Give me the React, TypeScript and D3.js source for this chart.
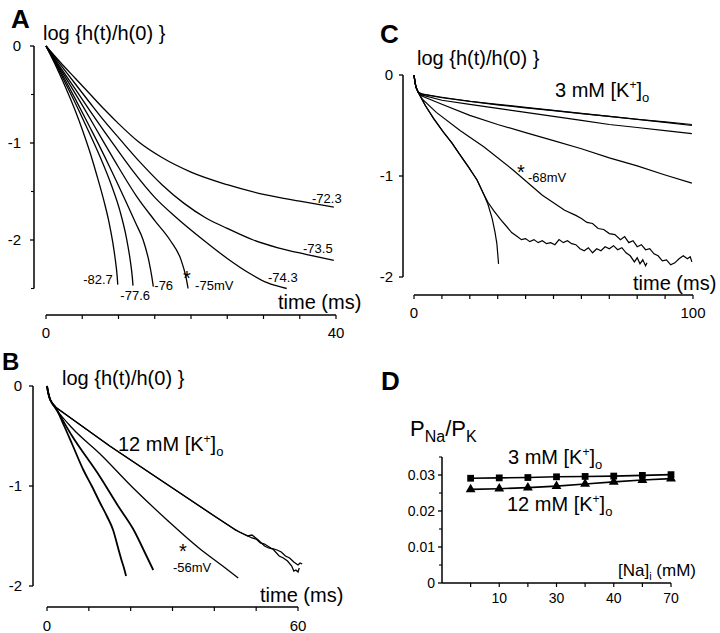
import React from "react";
import * as d3 from "d3";

const FONT = "'Liberation Sans', Arial, Helvetica, sans-serif";

type P = [number, number];

// ---------- Panel A (time ms, log h) ----------
const aVoltLabels = ["-82.7", "-77.6", "-76", "-75mV", "-74.3", "-73.5", "-72.3"];
const a827: P[] = [[0,0],[1,-0.15],[2,-0.31],[3,-0.48],[4,-0.66],[5,-0.86],[6,-1.08],[7,-1.33],[8,-1.6],[8.7,-1.82],[9.2,-2.02],[9.5,-2.17],[9.8,-2.36],[9.9,-2.46]];
const a776: P[] = [[0,0],[1.5,-0.21],[3,-0.43],[4.5,-0.66],[6,-0.9],[7.5,-1.15],[9,-1.43],[10.2,-1.7],[11.1,-1.98],[11.6,-2.2],[11.9,-2.38],[12,-2.47]];
const a76: P[] = [[0,0],[2,-0.26],[4,-0.54],[6,-0.83],[7.5,-1.05],[9,-1.28],[11,-1.6],[12.4,-1.83],[13.4,-2.0],[14.2,-2.22],[14.6,-2.38],[14.8,-2.48]];
const a75: P[] = [[0,0],[2.5,-0.3],[5,-0.61],[7.8,-0.97],[10,-1.25],[12.5,-1.55],[15,-1.8],[17.1,-2.0],[18.6,-2.2],[19.3,-2.38],[19.6,-2.5]];
const a743: P[] = [[0,0],[3,-0.33],[6,-0.66],[8.8,-0.96],[12,-1.29],[15,-1.56],[18,-1.77],[21.7,-2.0],[25,-2.19],[28,-2.34],[30.5,-2.44],[33.2,-2.5]];
const a735: P[] = [[0,0],[3,-0.29],[6,-0.58],[8,-0.77],[10.3,-0.97],[13,-1.2],[16,-1.43],[19,-1.62],[22,-1.77],[25,-1.88],[28.6,-2.0],[32,-2.08],[36,-2.15],[39.7,-2.21]];
const a723: P[] = [[0,0],[2,-0.17],[4,-0.33],[6,-0.49],[8,-0.65],[10,-0.8],[12.8,-0.99],[16,-1.15],[20,-1.3],[25,-1.43],[30,-1.53],[35,-1.6],[39.7,-1.66]];
const aCurves = [a827, a776, a76, a75, a743, a735, a723];
const aYTicks = [0, -1, -2];
const aYMinor = [-0.5, -1.5, -2.5];
const aXTicks = [0, 5, 10, 15, 20, 25, 30, 35, 40];

// ---------- Panel B ----------
const b1: P[] = [[0,0],[0.3,-0.07],[0.7,-0.13],[1.2,-0.17],[2,-0.21],[4,-0.39],[6,-0.58],[8.7,-0.84],[10.7,-1.0],[12.7,-1.17],[14.3,-1.3],[15.8,-1.44],[17,-1.62],[17.8,-1.74],[18.4,-1.82],[18.9,-1.9]];
const b2: P[] = [[0,0],[0.3,-0.07],[0.7,-0.13],[1.2,-0.17],[2,-0.22],[6,-0.5],[12.7,-0.91],[17,-1.2],[20.6,-1.43],[23.9,-1.71],[25.4,-1.84]];
const b56: P[] = [[0,0],[0.3,-0.07],[0.7,-0.13],[1.2,-0.17],[2,-0.22],[6,-0.42],[12.7,-0.68],[20.6,-1.02],[28.7,-1.34],[36.6,-1.63],[42,-1.8],[45.7,-1.92]];
const b4: P[] = [[0,0],[0.3,-0.07],[0.7,-0.13],[1.2,-0.17],[2,-0.21],[6,-0.33],[10,-0.45],[15,-0.6],[20,-0.74],[25,-0.88],[30,-1.02],[35,-1.16],[40,-1.3],[44,-1.41],[46,-1.46],[47.5,-1.49],[49,-1.52],[50,-1.53],[51,-1.57],[52,-1.58],[53.5,-1.62],[55,-1.64],[56,-1.66],[57,-1.7],[58,-1.72],[59,-1.76],[60,-1.79],[60.5,-1.77],[61,-1.78]];
const b5: P[] = [[0,0],[0.3,-0.07],[0.7,-0.13],[1.2,-0.17],[2,-0.21],[6,-0.33],[10,-0.45],[15,-0.6],[20,-0.74],[25,-0.88],[30,-1.02],[35,-1.16],[40,-1.3],[44,-1.41],[45,-1.44],[46.5,-1.47],[48,-1.5],[49,-1.49],[50.5,-1.54],[52,-1.6],[53,-1.62],[54,-1.63],[55.5,-1.7],[56.5,-1.72],[57.5,-1.75],[58.5,-1.8],[59,-1.85],[59.5,-1.84],[60,-1.86],[60.3,-1.82]];
const bSmooth = [b1, b2, b56];
const bNoisy = [b4, b5];
const bYTicks = [0, -1, -2];
const bXTicks = [0, 10, 20, 30, 40, 50, 60];

// ---------- Panel C ----------
const c1: P[] = [[0,0],[0.3,-0.06],[0.7,-0.12],[1.5,-0.17],[3,-0.19],[10,-0.22],[20,-0.26],[30,-0.29],[40,-0.32],[50,-0.35],[60,-0.38],[70,-0.41],[80,-0.44],[90,-0.47],[99.6,-0.5]];
const c1b: P[] = [[0,0],[0.3,-0.06],[0.7,-0.12],[1.5,-0.17],[3,-0.19],[10,-0.225],[20,-0.262],[30,-0.295],[40,-0.325],[50,-0.352],[60,-0.382],[70,-0.41],[80,-0.438],[90,-0.465],[99.6,-0.49]];
const c2: P[] = [[0,0],[0.3,-0.06],[0.7,-0.12],[1.5,-0.17],[3,-0.2],[10,-0.25],[20,-0.29],[30,-0.33],[40,-0.37],[50,-0.41],[60,-0.45],[70,-0.49],[80,-0.52],[90,-0.55],[99.6,-0.58]];
const c3: P[] = [[0,0],[0.3,-0.06],[0.7,-0.12],[1.5,-0.17],[3,-0.21],[10,-0.29],[20,-0.4],[30,-0.49],[40,-0.57],[50,-0.65],[60,-0.73],[70,-0.82],[80,-0.9],[90,-0.99],[99.6,-1.07]];
const c68: P[] = [[0,0],[0.3,-0.06],[0.7,-0.12],[1.5,-0.17],[3,-0.24],[8,-0.37],[16.5,-0.55],[25,-0.71],[35.5,-0.94],[46,-1.19],[54,-1.34],[58,-1.39],[60,-1.42],[62,-1.46],[64,-1.47],[66,-1.52],[68,-1.53],[70,-1.57],[72,-1.58],[74,-1.63],[75.5,-1.6],[77,-1.66],[78.5,-1.64],[80,-1.7],[81.5,-1.68],[83,-1.73],[84.5,-1.72],[86,-1.77],[87.5,-1.79],[89,-1.84],[90.5,-1.83],[92,-1.88],[93.5,-1.86],[95,-1.82],[96.5,-1.79],[98,-1.82],[99,-1.8],[99.6,-1.85]];
const c5: P[] = [[0,0],[0.3,-0.06],[0.7,-0.12],[1.5,-0.17],[4,-0.3],[7,-0.43],[10.4,-0.56],[13.5,-0.67],[16.5,-0.79],[19.5,-0.91],[22.6,-1.04],[25,-1.18],[26.5,-1.28],[28,-1.42],[29,-1.55],[29.7,-1.67],[30.1,-1.8],[30.3,-1.87]];
const c6: P[] = [[0,0],[0.3,-0.06],[0.7,-0.12],[1.5,-0.17],[4,-0.3],[7,-0.43],[10.4,-0.56],[13.5,-0.67],[16.5,-0.79],[19.5,-0.91],[22.6,-1.04],[25,-1.18],[26.5,-1.26],[28.5,-1.34],[31,-1.43],[33.5,-1.51],[35,-1.56],[37,-1.6],[38.5,-1.63],[40,-1.62],[41.5,-1.65],[43,-1.63],[44.5,-1.66],[46,-1.64],[47.5,-1.67],[49,-1.66],[50.5,-1.68],[52,-1.63],[53.5,-1.66],[55,-1.64],[56.5,-1.67],[58,-1.68],[59.5,-1.72],[61,-1.74],[62.5,-1.71],[64,-1.76],[65.5,-1.72],[67,-1.74],[68.5,-1.7],[70,-1.72],[71.5,-1.69],[73,-1.73],[74.5,-1.71],[76,-1.76],[77.5,-1.79],[79,-1.85],[80,-1.81],[81,-1.87],[82,-1.83],[83,-1.89],[83.5,-1.86]];
const cCurves = [c1, c1b, c2, c3, c68, c5, c6];
const cYTicks = [0, -1, -2];
const cXTicks = [0, 10, 20, 30, 40, 50, 60, 70, 80, 90, 100];

// ---------- Panel D ----------
const dPositions = [1, 2, 3, 4, 5, 6, 7, 8];
const dTickLabels = ["", "10", "", "30", "", "40", "", "70"];
const d3mM = [0.0291, 0.0292, 0.0293, 0.0295, 0.0296, 0.0297, 0.0299, 0.0301];
const d12mM = [0.026, 0.0262, 0.0265, 0.0269, 0.0275, 0.0281, 0.0286, 0.029];
const dYTicks = [0, 0.01, 0.02, 0.03];
const dYLabels = ["0", "0.01", "0.02", "0.03"];
const dYMinor = [0.005, 0.015, 0.025, 0.035];

// ---------- scales ----------
const xA = d3.scaleLinear().domain([0, 40]).range([46, 336]);
const yA = d3.scaleLinear().domain([0, -2.5]).range([46, 288.5]);
const xB = d3.scaleLinear().domain([0, 60]).range([47, 298]);
const yB = d3.scaleLinear().domain([0, -2]).range([386, 586]);
const xC = d3.scaleLinear().domain([0, 100]).range([414, 693]);
const yC = d3.scaleLinear().domain([0, -2]).range([75, 277]);
const xD = d3.scaleLinear().domain([0, 8]).range([442, 671]);
const yD = d3.scaleLinear().domain([0, 0.035]).range([583, 457]);

const mkLine = (xs: any, ys: any, smooth: boolean) =>
  d3
    .line<P>()
    .x((d) => xs(d[0]))
    .y((d) => ys(d[1]))
    .curve(smooth ? d3.curveMonotoneX : d3.curveLinear);

function KLabel({ x, y, prefix }: { x: number; y: number; prefix: string }) {
  return (
    <text x={x} y={y} fontSize={20}>
      {prefix}[K
      <tspan dy={-8} fontSize={12}>+</tspan>
      <tspan dy={8}>]</tspan>
      <tspan dy={5} fontSize={13}>o</tspan>
    </text>
  );
}

function YAxis({ x, scale, top, bottom, ticks, labels, minors, labelX, fontSize = 15 }: any) {
  return (
    <g>
      <line x1={x} x2={x} y1={scale(top)} y2={scale(bottom)} stroke="#000" strokeWidth={1.5} />
      {ticks.map((t: number) => (
        <line key={"t" + t} x1={x - 4} x2={x} y1={scale(t)} y2={scale(t)} stroke="#000" strokeWidth={1.3} />
      ))}
      {(minors || []).map((t: number) => (
        <line key={"m" + t} x1={x - 3} x2={x} y1={scale(t)} y2={scale(t)} stroke="#000" strokeWidth={1.1} />
      ))}
      {ticks.map((t: number, i: number) => (
        <text key={"l" + t} x={labelX} y={scale(t) + 5} textAnchor="end" fontSize={fontSize}>
          {labels[i]}
        </text>
      ))}
    </g>
  );
}

function XAxis({ y, scale, from, to, ticks, labels, labelY, fontSize = 15 }: any) {
  return (
    <g>
      <line x1={scale(from)} x2={scale(to)} y1={y} y2={y} stroke="#000" strokeWidth={1.5} />
      {ticks.map((t: number) => (
        <line key={"t" + t} x1={scale(t)} x2={scale(t)} y1={y} y2={y + 4} stroke="#000" strokeWidth={1.2} />
      ))}
      {ticks.map((t: number, i: number) =>
        labels[i] ? (
          <text key={"l" + t} x={scale(t)} y={labelY} textAnchor="middle" fontSize={fontSize}>
            {labels[i]}
          </text>
        ) : null
      )}
    </g>
  );
}

export default function App() {
  const lineA = mkLine(xA, yA, true);
  const lineB = mkLine(xB, yB, true);
  const lineBn = mkLine(xB, yB, false);
  const lineC = mkLine(xC, yC, false);
  const sq = d3.symbol(d3.symbolSquare, 46)();
  const tri = d3.symbol(d3.symbolTriangle, 42)();
  const dLine = d3
    .line<number>()
    .x((_, i) => xD(dPositions[i]))
    .y((d) => yD(d));

  const aEnds = aCurves.map((c) => c[c.length - 1]);

  return (
    <svg
      width={720}
      height={633}
      style={{ position: "absolute", left: 0, top: 0, background: "#fff" }}
      fontFamily={FONT}
      fill="#000"
    >
      <rect x={0} y={0} width={720} height={633} fill="#fff" />

      {/* ===== Panel A ===== */}
      <text x={11} y={28} fontSize={26} fontWeight="bold">A</text>
      <text x={43} y={40} fontSize={20}>log {"{"}h(t)/h(0) {"}"}</text>
      <YAxis x={34} scale={yA} top={0} bottom={-2.5} ticks={aYTicks} labels={["0", "-1", "-2"]} minors={aYMinor} labelX={21} />
      <XAxis y={315} scale={xA} from={0} to={40} ticks={aXTicks} labels={["0", "", "", "", "", "", "", "", "40"]} labelY={338} />
      {aCurves.map((c, i) => (
        <path key={i} d={lineA(c) || ""} fill="none" stroke="#000" strokeWidth={1.3} />
      ))}
      <text x={xA(aEnds[0][0]) - 5} y={284} fontSize={13} textAnchor="end">{aVoltLabels[0]}</text>
      <text x={xA(aEnds[1][0]) + 17} y={300} fontSize={13} textAnchor="end">{aVoltLabels[1]}</text>
      <text x={xA(aEnds[2][0]) + 1} y={290} fontSize={13}>{aVoltLabels[2]}</text>
      <text x={187} y={285} fontSize={20} textAnchor="middle">*</text>
      <text x={xA(aEnds[3][0]) + 7} y={290} fontSize={13}>{aVoltLabels[3]}</text>
      <text x={268} y={282} fontSize={13}>{aVoltLabels[4]}</text>
      <text x={303} y={253} fontSize={13}>{aVoltLabels[5]}</text>
      <text x={312} y={203} fontSize={13}>{aVoltLabels[6]}</text>
      <text x={278} y={309} fontSize={20}>time (ms)</text>

      {/* ===== Panel B ===== */}
      <text x={2} y={370} fontSize={24} fontWeight="bold">B</text>
      <text x={62} y={385} fontSize={20}>log {"{"}h(t)/h(0) {"}"}</text>
      <YAxis x={33} scale={yB} top={0} bottom={-2} ticks={bYTicks} labels={["0", "-1", "-2"]} labelX={22} />
      <XAxis y={607} scale={xB} from={0} to={60} ticks={bXTicks} labels={["0", "", "", "", "", "", "60"]} labelY={631} />
      {bSmooth.map((c, i) => (
        <path key={i} d={lineB(c) || ""} fill="none" stroke="#000" strokeWidth={i < 2 ? 1.8 : 1.3} />
      ))}
      {bNoisy.map((c, i) => (
        <path key={i} d={lineBn(c) || ""} fill="none" stroke="#000" strokeWidth={1.3} />
      ))}
      <KLabel x={118} y={451} prefix="12 mM " />
      <text x={183} y={558} fontSize={20} textAnchor="middle">*</text>
      <text x={173} y={572} fontSize={13}>-56mV</text>
      <text x={260} y={602} fontSize={20}>time (ms)</text>

      {/* ===== Panel C ===== */}
      <text x={380} y={43} fontSize={26} fontWeight="bold">C</text>
      <text x={417} y={65} fontSize={20}>log {"{"}h(t)/h(0) {"}"}</text>
      <YAxis x={403} scale={yC} top={0} bottom={-2} ticks={cYTicks} labels={["0", "-1", "-2"]} labelX={393} />
      <XAxis y={295} scale={xC} from={0} to={100} ticks={cXTicks} labels={["0", "", "", "", "", "", "", "", "", "", "100"]} labelY={318} />
      {cCurves.map((c, i) => (
        <path key={i} d={lineC(c) || ""} fill="none" stroke="#000" strokeWidth={1.2} />
      ))}
      <KLabel x={555} y={97} prefix="3 mM " />
      <text x={521} y={179} fontSize={20} textAnchor="middle">*</text>
      <text x={528} y={182} fontSize={13}>-68mV</text>
      <text x={633} y={290} fontSize={20}>time (ms)</text>

      {/* ===== Panel D ===== */}
      <text x={381} y={390} fontSize={26} fontWeight="bold">D</text>
      <text x={410} y={436} fontSize={22}>
        P<tspan dy={6} fontSize={16}>Na</tspan>
        <tspan dy={-6}>/P</tspan>
        <tspan dy={6} fontSize={16}>K</tspan>
      </text>
      <YAxis x={442} scale={yD} top={0} bottom={0.035} ticks={dYTicks} labels={dYLabels} minors={dYMinor} labelX={435} fontSize={14} />
      <XAxis y={583} scale={xD} from={0} to={8} ticks={dPositions} labels={dTickLabels} labelY={603} fontSize={14} />
      <path d={dLine(d3mM) || ""} fill="none" stroke="#000" strokeWidth={1.6} />
      <path d={dLine(d12mM) || ""} fill="none" stroke="#000" strokeWidth={1.6} />
      {d3mM.map((v, i) => (
        <path key={"s" + i} d={sq || ""} transform={`translate(${xD(dPositions[i])},${yD(v)})`} fill="#000" />
      ))}
      {d12mM.map((v, i) => (
        <path key={"t" + i} d={tri || ""} transform={`translate(${xD(dPositions[i])},${yD(v)})`} fill="#000" />
      ))}
      <KLabel x={508} y={464} prefix="3 mM " />
      <KLabel x={507} y={511} prefix="12 mM " />
      <text x={618} y={576} fontSize={17}>
        [Na]<tspan dy={4} fontSize={11}>i</tspan>
        <tspan dy={-4}> (mM)</tspan>
      </text>
    </svg>
  );
}
